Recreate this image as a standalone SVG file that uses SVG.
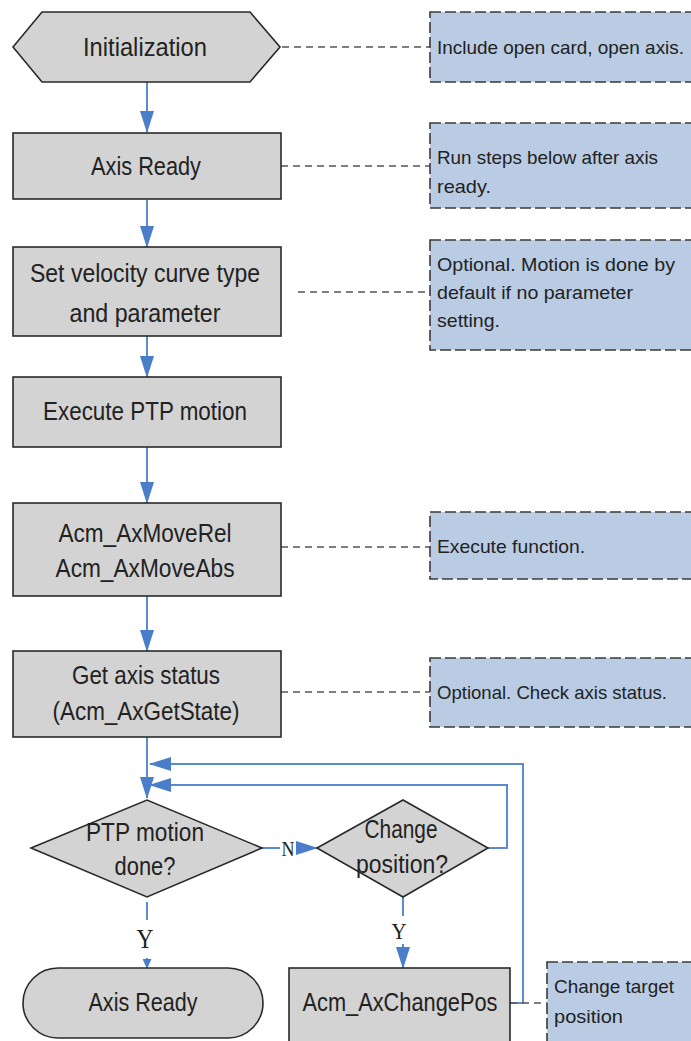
<svg xmlns="http://www.w3.org/2000/svg" width="691" height="1041" viewBox="0 0 691 1041">
  <defs>
    <marker id="head" markerUnits="userSpaceOnUse" markerWidth="22" markerHeight="14" refX="21" refY="7" orient="auto">
      <path d="M0,0 L22,7 L0,14 z" fill="#4a7ec8"/>
    </marker>
    <marker id="headSmall" markerUnits="userSpaceOnUse" markerWidth="10" markerHeight="9" refX="9" refY="4.5" orient="auto">
      <path d="M0,0 L10,4.5 L0,9 z" fill="#4a7ec8"/>
    </marker>
    <style>
      .box { fill: #d3d3d3; stroke: #2a2a2a; stroke-width: 1.6; }
      .note { fill: #b9cce4; stroke: #3a3a3a; stroke-width: 1.6; stroke-dasharray: 11 4; }
      .flow { fill: none; stroke: #5a8bcf; stroke-width: 2; }
      .link { fill: none; stroke: #555; stroke-width: 1.6; stroke-dasharray: 7 5; }
      .t { font-family: "Liberation Sans", Arial, sans-serif; font-size: 25px; fill: #222; text-anchor: middle; }
      .n { font-family: "Liberation Sans", Arial, sans-serif; font-size: 19px; fill: #222; }
      .yn { font-family: "Liberation Serif", "Times New Roman", serif; fill: #222; text-anchor: middle; }
    </style>
  </defs>

  <!-- flow and annotation connectors -->
  <g id="connectors">
    <line class="flow" x1="147" y1="82" x2="147" y2="132" marker-end="url(#head)"/>
    <line class="flow" x1="147" y1="200" x2="147" y2="247" marker-end="url(#head)"/>
    <line class="flow" x1="147" y1="336" x2="147" y2="377" marker-end="url(#head)"/>
    <line class="flow" x1="147" y1="447" x2="147" y2="503" marker-end="url(#head)"/>
    <line class="flow" x1="147" y1="596" x2="147" y2="651" marker-end="url(#head)"/>
    <line class="flow" x1="147" y1="737" x2="147" y2="798" marker-end="url(#head)"/>
    <!-- loop back from Acm_AxChangePos -->
    <polyline class="flow" points="510,1003 523,1003 523,764 150,764" marker-end="url(#head)"/>
    <!-- loop back from Change position? (no) -->
    <polyline class="flow" points="488,848 507,848 507,785 150,785" marker-end="url(#head)"/>
    <!-- PTP motion done? : N -->
    <line class="flow" x1="262" y1="848" x2="280" y2="848"/>
    <line class="flow" x1="296" y1="848" x2="317" y2="848" marker-end="url(#head)"/>
    <text class="yn" x="288" y="856" font-size="21" textLength="13" lengthAdjust="spacingAndGlyphs">N</text>
    <!-- PTP motion done? : Y -->
    <line class="flow" x1="147" y1="902" x2="147" y2="920"/>
    <line class="flow" x1="147" y1="958" x2="147" y2="968" marker-end="url(#headSmall)"/>
    <text class="yn" x="145" y="948" font-size="27" textLength="17" lengthAdjust="spacingAndGlyphs">Y</text>
    <!-- Change position? : Y -->
    <line class="flow" x1="403" y1="897" x2="403" y2="916"/>
    <line class="flow" x1="403" y1="944" x2="403" y2="968" marker-end="url(#head)"/>
    <text class="yn" x="399" y="939" font-size="24" textLength="15" lengthAdjust="spacingAndGlyphs">Y</text>
    <!-- dashed annotation links -->
    <line class="link" x1="282" y1="47" x2="430" y2="47"/>
    <line class="link" x1="281" y1="166" x2="430" y2="166"/>
    <line class="link" x1="298" y1="292" x2="430" y2="292"/>
    <line class="link" x1="281" y1="547" x2="430" y2="547"/>
    <line class="link" x1="281" y1="692" x2="430" y2="692"/>
    <line class="link" x1="510" y1="1003" x2="547" y2="1003"/>
  </g>

  <g id="init">
    <polygon class="box" points="13,47 42,12 250,12 280,47 250,82 42,82"/>
    <text class="t" x="145" y="56" textLength="124" lengthAdjust="spacingAndGlyphs">Initialization</text>
  </g>
  <g id="axis-ready">
    <rect class="box" x="13" y="133" width="268" height="66"/>
    <text class="t" x="146" y="175" textLength="110" lengthAdjust="spacingAndGlyphs">Axis Ready</text>
  </g>
  <g id="set-velocity">
    <rect class="box" x="13" y="247" width="268" height="89"/>
    <text class="t" x="145" y="282" textLength="230" lengthAdjust="spacingAndGlyphs">Set velocity curve type</text>
    <text class="t" x="145" y="322" textLength="151" lengthAdjust="spacingAndGlyphs">and parameter</text>
  </g>
  <g id="execute-ptp">
    <rect class="box" x="13" y="377" width="268" height="70"/>
    <text class="t" x="145" y="420" textLength="204" lengthAdjust="spacingAndGlyphs">Execute PTP motion</text>
  </g>
  <g id="move-calls">
    <rect class="box" x="13" y="503" width="268" height="93"/>
    <text class="t" x="145" y="542" textLength="173" lengthAdjust="spacingAndGlyphs">Acm_AxMoveRel</text>
    <text class="t" x="145" y="577" textLength="179" lengthAdjust="spacingAndGlyphs">Acm_AxMoveAbs</text>
  </g>
  <g id="get-state">
    <rect class="box" x="13" y="651" width="268" height="86"/>
    <text class="t" x="146" y="684" textLength="148" lengthAdjust="spacingAndGlyphs">Get axis status</text>
    <text class="t" x="146" y="720" textLength="187" lengthAdjust="spacingAndGlyphs">(Acm_AxGetState)</text>
  </g>
  <g id="ptp-done">
    <polygon class="box" points="31,848 147,800 262,848 147,897"/>
    <text class="t" x="145" y="841" textLength="118" lengthAdjust="spacingAndGlyphs">PTP motion</text>
    <text class="t" x="145" y="875" textLength="61" lengthAdjust="spacingAndGlyphs">done?</text>
  </g>
  <g id="change-pos">
    <polygon class="box" points="317,848 403,800 488,848 403,897"/>
    <text class="t" x="401" y="838" textLength="73" lengthAdjust="spacingAndGlyphs">Change</text>
    <text class="t" x="402" y="873" textLength="92" lengthAdjust="spacingAndGlyphs">position?</text>
  </g>
  <g id="axis-ready-end">
    <rect class="box" x="23" y="968" width="240" height="70" rx="35" ry="35"/>
    <text class="t" x="143" y="1011" textLength="109" lengthAdjust="spacingAndGlyphs">Axis Ready</text>
  </g>
  <g id="change-pos-call">
    <rect class="box" x="289" y="968" width="221" height="82"/>
    <text class="t" x="400" y="1011" textLength="195" lengthAdjust="spacingAndGlyphs">Acm_AxChangePos</text>
  </g>

  <g id="note-init">
    <rect class="note" x="430" y="12" width="263" height="70"/>
    <text class="n" x="437" y="54" textLength="247" lengthAdjust="spacingAndGlyphs">Include open card, open axis.</text>
  </g>
  <g id="note-ready">
    <rect class="note" x="430" y="123" width="263" height="85"/>
    <text class="n" x="437" y="164" textLength="221" lengthAdjust="spacingAndGlyphs">Run steps below after axis</text>
    <text class="n" x="437" y="193" textLength="54" lengthAdjust="spacingAndGlyphs">ready.</text>
  </g>
  <g id="note-velocity">
    <rect class="note" x="430" y="240" width="263" height="110"/>
    <text class="n" x="437" y="271" textLength="238" lengthAdjust="spacingAndGlyphs">Optional. Motion is done by</text>
    <text class="n" x="437" y="299" textLength="196" lengthAdjust="spacingAndGlyphs">default if no parameter</text>
    <text class="n" x="437" y="327" textLength="63" lengthAdjust="spacingAndGlyphs">setting.</text>
  </g>
  <g id="note-move">
    <rect class="note" x="430" y="512" width="263" height="67"/>
    <text class="n" x="437" y="553" textLength="148" lengthAdjust="spacingAndGlyphs">Execute function.</text>
  </g>
  <g id="note-state">
    <rect class="note" x="430" y="658" width="263" height="69"/>
    <text class="n" x="437" y="699" textLength="230" lengthAdjust="spacingAndGlyphs">Optional. Check axis status.</text>
  </g>
  <g id="note-change">
    <rect class="note" x="547" y="962" width="146" height="90"/>
    <text class="n" x="554" y="993" textLength="120" lengthAdjust="spacingAndGlyphs">Change target</text>
    <text class="n" x="554" y="1023" textLength="69" lengthAdjust="spacingAndGlyphs">position</text>
  </g>
</svg>
